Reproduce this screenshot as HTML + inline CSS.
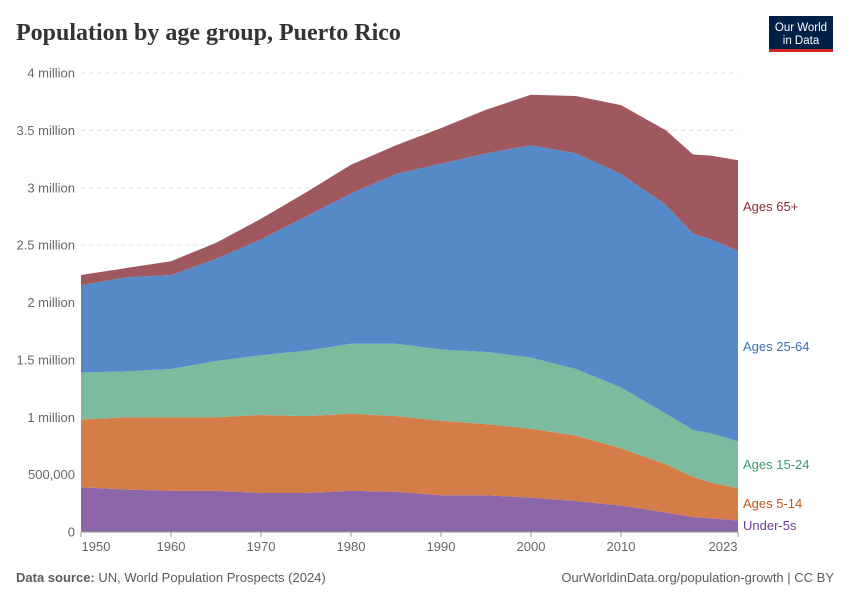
<!DOCTYPE html>
<html><head><meta charset="utf-8"><style>
body{margin:0;background:#fff;font-family:"Liberation Sans",sans-serif;}
</style></head><body>
<svg width="850" height="600" xmlns="http://www.w3.org/2000/svg">
<text x="16" y="40" font-family="Liberation Serif,serif" font-size="24" font-weight="bold" fill="#333">Population by age group, Puerto Rico</text>
<g>
<rect x="769" y="16" width="64" height="36" fill="#002147"/>
<rect x="769" y="49" width="64" height="3" fill="#ce261e"/>
<text x="801" y="31" text-anchor="middle" font-size="11.5" fill="#fff">Our World</text>
<text x="801" y="44" text-anchor="middle" font-size="11.5" fill="#fff">in Data</text>
</g>
<g id="grid"></g>
<g id="areas"></g>
<g id="xaxis"></g>
<g id="labels"></g>
<text x="16" y="582" font-size="13" fill="#5b5b5b"><tspan font-weight="bold">Data source:</tspan> UN, World Population Prospects (2024)</text>
<text x="834" y="582" text-anchor="end" font-size="13" fill="#5b5b5b">OurWorldinData.org/population-growth | CC BY</text>
</svg>
<script>
const years=[1950,1955,1960,1965,1970,1975,1980,1985,1990,1995,2000,2005,2010,2015,2018,2020,2023];
const under5=[0.39,0.37,0.36,0.36,0.34,0.34,0.36,0.35,0.32,0.32,0.30,0.27,0.23,0.17,0.13,0.12,0.10];
const ages5to14=[0.59,0.63,0.64,0.64,0.68,0.67,0.67,0.66,0.65,0.62,0.60,0.57,0.50,0.42,0.35,0.31,0.28];
const ages15to24=[0.41,0.40,0.42,0.49,0.52,0.57,0.61,0.63,0.62,0.63,0.62,0.58,0.53,0.44,0.41,0.43,0.41];
const ages25to64=[0.76,0.82,0.82,0.89,1.01,1.17,1.31,1.48,1.62,1.73,1.85,1.88,1.86,1.82,1.71,1.69,1.66];
const ages65plus=[0.09,0.08,0.12,0.14,0.18,0.21,0.25,0.25,0.31,0.38,0.44,0.50,0.60,0.65,0.69,0.73,0.79];
const yTicks=[0,0.5,1,1.5,2,2.5,3,3.5,4];
const yTickLabels=["0","500,000","1 million","1.5 million","2 million","2.5 million","3 million","3.5 million","4 million"];
const xTicks=[1950,1960,1970,1980,1990,2000,2010,2023];
const seriesNames=["Under-5s","Ages 5-14","Ages 15-24","Ages 25-64","Ages 65+"];
const NS="http://www.w3.org/2000/svg";
const X=y=>81+(y-1950)*(738-81)/73;
const Y=v=>532-v*114.75;
function mk(t,a,p){const e=document.createElementNS(NS,t);for(const k in a)e.setAttribute(k,a[k]);p.appendChild(e);return e;}
const grid=document.getElementById('grid');
yTicks.forEach((v,i)=>{
 const l=mk('line',{x1:81,x2:738,y1:Y(v),y2:Y(v),stroke:'#ddd','stroke-dasharray':v===0?'':'4,4'},grid);
 
 
 const t=mk('text',{x:75,y:Y(v)+4.5,'text-anchor':'end','font-size':13,fill:'#666'},grid);
 t.textContent=yTickLabels[i];
 
 
});
const series=[under5,ages5to14,ages15to24,ages25to64,ages65plus];
const fills=["#8c66a8","#d47d48","#7cbb9d","#5589c8","#a0585f"];
const lblCol=["#6d3e91","#c05917","#3c9a6e","#3d6fb6","#883039"];
const areas=document.getElementById('areas');
let base=years.map(()=>0);
const labY=[526,504,465,347,207];
series.forEach((s,si)=>{
 const top=base.map((b,i)=>b+s[i]);
 let d='M'+years.map((y,i)=>X(y)+','+Y(top[i])).join('L');
 for(let i=years.length-1;i>=0;i--)d+='L'+X(years[i])+','+Y(base[i]);
 const p=mk('path',{d:d+'Z',fill:fills[si]},areas);
 
 
 const t=mk('text',{x:743,y:labY[si]+4,'font-size':13,fill:lblCol[si]},document.getElementById('labels'));
 t.textContent=seriesNames[si];
 
 
 base=top;
});
const xa=document.getElementById('xaxis');
mk('line',{x1:81,x2:738,y1:532,y2:532,stroke:'#999'},xa);
xTicks.forEach(y=>{
 mk('line',{x1:X(y),x2:X(y),y1:532,y2:537,stroke:'#999'},xa);
 const t=mk('text',{x:y===1950?X(y)+15:(y===2023?X(y)-15:X(y)),y:551,'text-anchor':'middle','font-size':13,fill:'#666'},xa);
 t.textContent=y;
 
 
});
</script>
</body></html>
